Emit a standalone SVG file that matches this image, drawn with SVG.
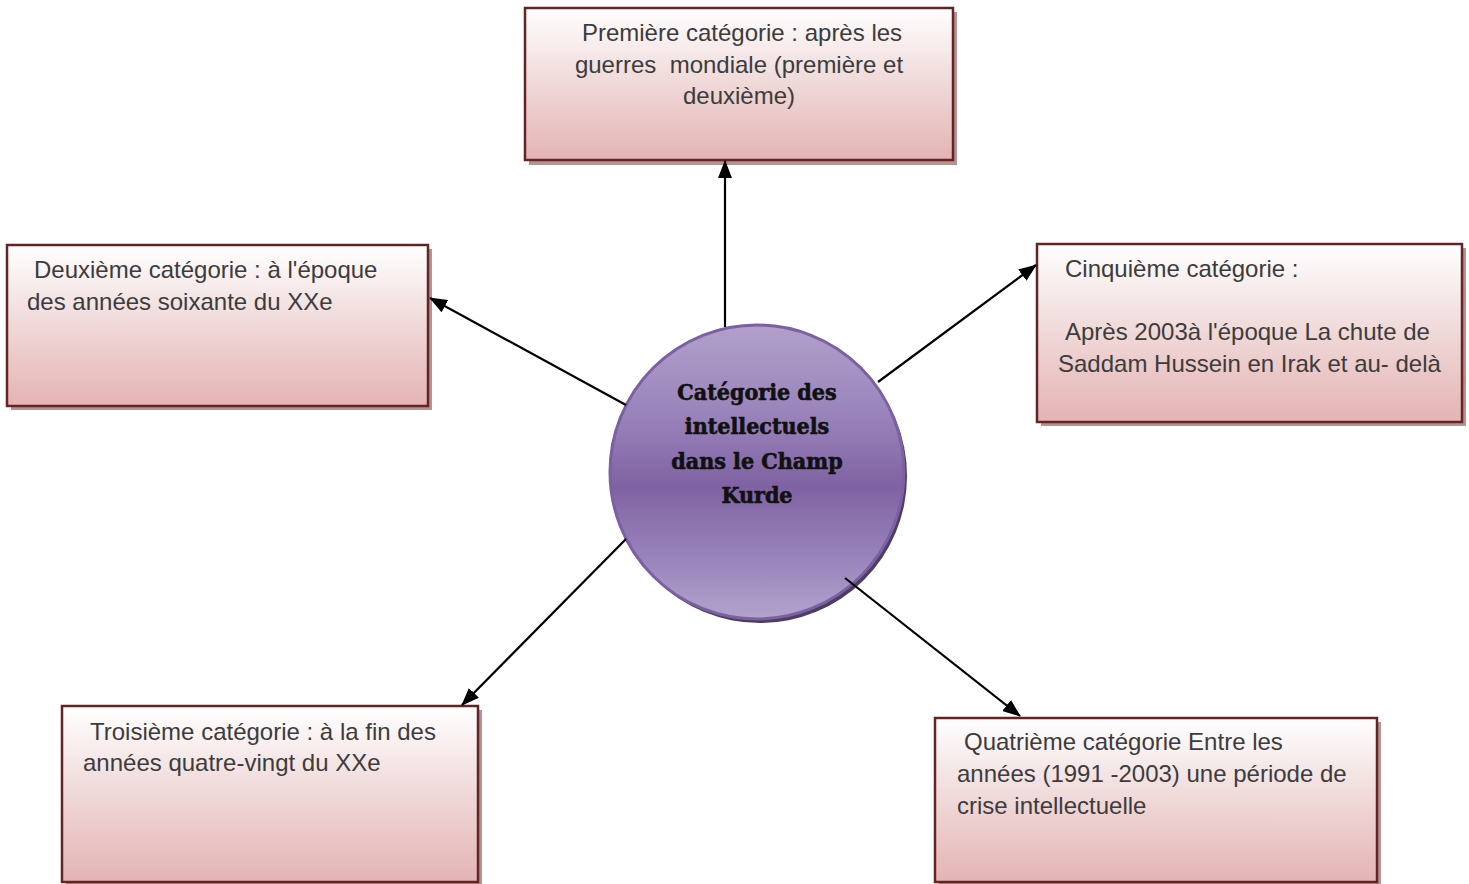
<svg xmlns="http://www.w3.org/2000/svg" width="1469" height="884" viewBox="0 0 1469 884">
<defs>
<linearGradient id="boxg" x1="0" y1="0" x2="0" y2="1">
<stop offset="0" stop-color="#ffffff"/>
<stop offset="0.45" stop-color="#f1dcdc"/>
<stop offset="1" stop-color="#e4b4b3"/>
</linearGradient>
<linearGradient id="circg" x1="0" y1="0" x2="0" y2="1">
<stop offset="0" stop-color="#b1a0ca"/>
<stop offset="0.3" stop-color="#9a84bb"/>
<stop offset="0.55" stop-color="#7f62a2"/>
<stop offset="0.8" stop-color="#9a85bc"/>
<stop offset="1" stop-color="#b3a3cd"/>
</linearGradient>
<marker id="arr" viewBox="0 0 18 14" refX="17" refY="7" markerWidth="18" markerHeight="14" markerUnits="userSpaceOnUse" orient="auto">
<path d="M0,0 L18,7 L0,14 Z" fill="#000"/>
</marker>
</defs>
<style>
.shadow{fill:#b39393}
.box{fill:url(#boxg);stroke:#632523;stroke-width:2.5}
.t{font-family:"Liberation Sans",Arial,sans-serif;font-size:24px;fill:#3c3c3c}
.c{font-family:"DejaVu Serif Condensed","DejaVu Serif",serif;font-weight:bold;font-size:23px;fill:#111;stroke:#111;stroke-width:0.6;text-anchor:middle}
.con{stroke:#000;stroke-width:2.2;fill:none;marker-end:url(#arr)}
</style>
<rect width="1469" height="884" fill="#fff"/>

<g id="node-premiere">
<rect class="shadow" x="529" y="12" width="428" height="153"/>
<rect class="box" x="525" y="8" width="428" height="152"/>
<text class="t" text-anchor="middle" x="742" y="41">Première catégorie : après les</text>
<text class="t" text-anchor="middle" x="739" y="73" xml:space="preserve">guerres  mondiale (première et</text>
<text class="t" text-anchor="middle" x="739" y="104">deuxième)</text>
</g>

<g id="node-deuxieme">
<rect class="shadow" x="11" y="249" width="421" height="161"/>
<rect class="box" x="7" y="245" width="421" height="161"/>
<text class="t" x="34" y="278">Deuxième catégorie : à l'époque</text>
<text class="t" x="27" y="310">des années soixante du XXe</text>
</g>

<g id="node-cinquieme">
<rect class="shadow" x="1041" y="248" width="425" height="178"/>
<rect class="box" x="1037" y="244" width="425" height="178"/>
<text class="t" x="1065" y="277">Cinquième catégorie :</text>
<text class="t" x="1065" y="340">Après 2003à l'époque La chute de</text>
<text class="t" x="1058" y="372">Saddam Hussein en Irak et au- delà</text>
</g>

<g id="node-troisieme">
<rect class="shadow" x="66" y="710" width="416" height="178"/>
<rect class="box" x="62" y="706" width="416" height="176"/>
<text class="t" x="90" y="740">Troisième catégorie : à la fin des</text>
<text class="t" x="83" y="771">années quatre-vingt du XXe</text>
</g>

<g id="node-quatrieme">
<rect class="shadow" x="939" y="722" width="442" height="166"/>
<rect class="box" x="935" y="718" width="442" height="164"/>
<text class="t" x="964" y="750">Quatrième catégorie Entre les</text>
<text class="t" x="957" y="782">années (1991 -2003) une période de</text>
<text class="t" x="957" y="814">crise intellectuelle</text>
</g>

<g id="node-centre">
<circle cx="760" cy="476" r="147" fill="#4d3d63"/>
<circle cx="757" cy="472" r="147" fill="url(#circg)" stroke="#7b60a2" stroke-width="3"/>
<text class="c" x="757" y="400">Catégorie des</text>
<text class="c" x="757" y="434">intellectuels</text>
<text class="c" x="757" y="469">dans le Champ</text>
<text class="c" x="757" y="503">Kurde</text>
</g>

<g id="connectors">
<line class="con" x1="725" y1="327" x2="725" y2="161"/>
<line class="con" x1="626" y1="405" x2="430" y2="298"/>
<line class="con" x1="878" y1="382" x2="1036" y2="265"/>
<line class="con" x1="626" y1="539" x2="462" y2="705"/>
<line class="con" x1="845" y1="578" x2="1020" y2="716"/>
</g>
</svg>
